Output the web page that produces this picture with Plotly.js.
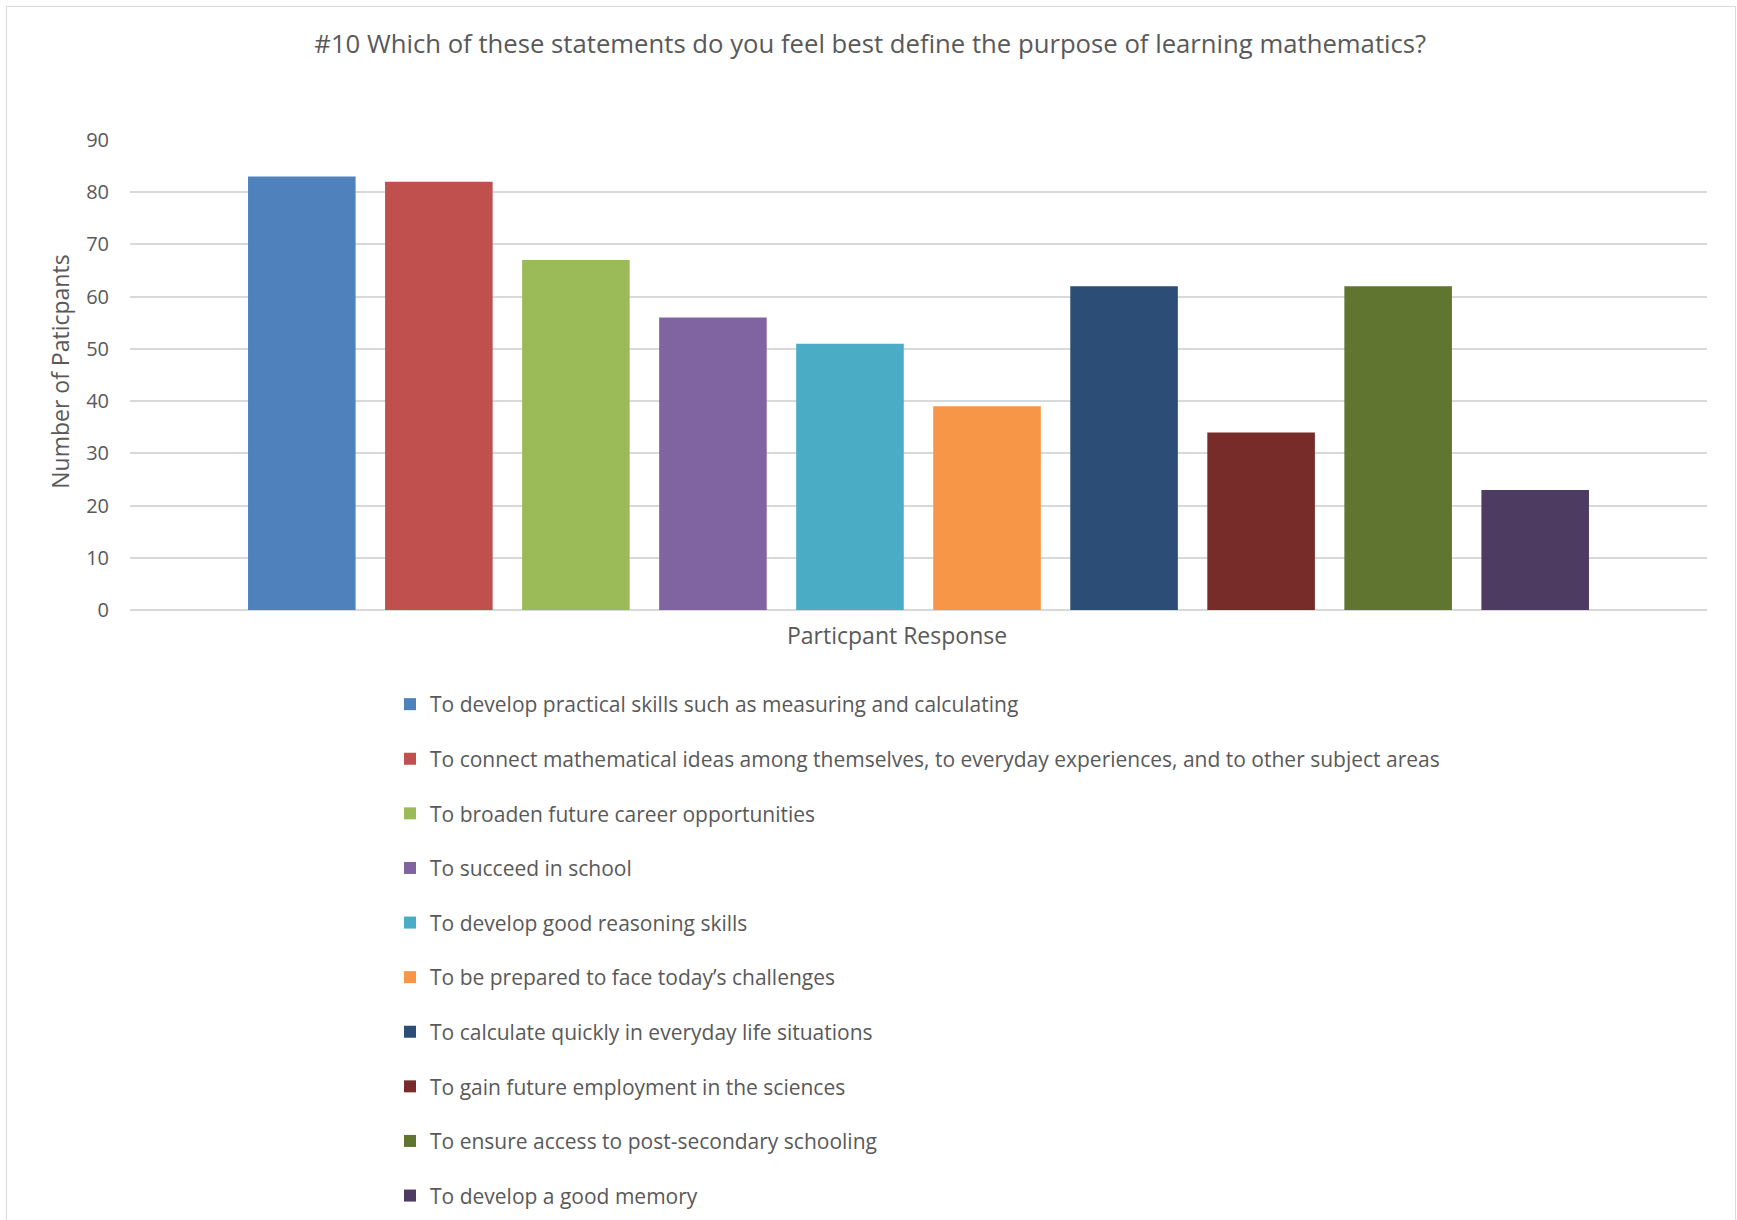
<!DOCTYPE html>
<html>
<head>
<meta charset="utf-8">
<script src="https://cdn.plot.ly/plotly-3.0.1.min.js"></script>
<style>
  html, body { margin: 0; padding: 0; background: #ffffff; }
  #wrap { position: relative; width: 1737px; height: 1220px; overflow: hidden; }
  #chart { position: absolute; left: 0; top: 0; width: 1737px; height: 1220px; }
  #frame { position: absolute; left: 6px; top: 6px; width: 1728px; height: 1300px;
           border: 1px solid #d9d9d9; pointer-events: none; }
</style>
</head>
<body>
<div id="wrap">
  <div id="chart"></div>
  <div id="frame"></div>
</div>
<script>
const chartTitle = '#10 Which of these statements do you feel best define the purpose of learning mathematics?';
const xTitle = 'Particpant Response';
const yTitle = 'Number of Paticpants';
const xCategory = ['Particpant Response'];
const statements = [
  'To develop practical skills such as measuring and calculating',
  'To connect mathematical ideas among themselves, to everyday experiences, and to other subject areas',
  'To broaden future career opportunities',
  'To succeed in school',
  'To develop good reasoning skills',
  'To be prepared to face today\u2019s challenges',
  'To calculate quickly in everyday life situations',
  'To gain future employment in the sciences',
  'To ensure access to post-secondary schooling',
  'To develop a good memory'
];
const counts = [83, 82, 67, 56, 51, 39, 62, 34, 62, 23];
const colors = ['#4F81BD', '#C0504D', '#9BBB59', '#8064A2', '#4BACC6',
                '#F79646', '#2C4D75', '#772C2A', '#5F7530', '#4D3B62'];
const yTicks = [0, 10, 20, 30, 40, 50, 60, 70, 80, 90];

const FONT = '"Open Sans", Lato, sans-serif';
const TXT = '#595959';

const traces = statements.map((name, i) => ({
  type: 'bar',
  name: name,
  x: xCategory,
  y: [counts[i]],
  marker: { color: colors[i], line: { width: 0 } },
  legendgroup: 'g' + i,
  hoverinfo: 'name+y'
}));

const layout = {
  width: 1737,
  height: 1220,
  paper_bgcolor: '#ffffff',
  plot_bgcolor: '#ffffff',
  font: { family: FONT, color: TXT, size: 20 },
  margin: { l: 130, r: 30, t: 140, b: 609.5, autoexpand: false },
  title: {
    text: chartTitle,
    font: { family: FONT, size: 25.7, color: TXT },
    x: 0.501, xanchor: 'center', xref: 'container',
    y: 1 - 44 / 1220, yanchor: 'middle', yref: 'container'
  },
  barmode: 'group',
  bargap: 0.131,
  bargroupgap: 0.215,
  xaxis: {
    type: 'category',
    showticklabels: false,
    showgrid: false,
    zeroline: false,
    showline: false,
    ticks: '',
    fixedrange: true
  },
  yaxis: {
    range: [0, 90],
    tickvals: yTicks,
    ticktext: yTicks.map(String),
    showgrid: true,
    gridcolor: '#d9d9d9',
    gridwidth: 1.5,
    zeroline: true,
    zerolinecolor: '#d9d9d9',
    zerolinewidth: 1.5,
    showline: false,
    ticks: '',
    ticklabelstandoff: 20,
    tickfont: { family: FONT, size: 20, color: TXT },
    automargin: false,
    fixedrange: true
  },
  annotations: [
    {
      text: yTitle,
      xref: 'paper', yref: 'paper',
      x: (60 - 130) / 1577, y: (610.5 - 372) / 470.5,
      xanchor: 'center', yanchor: 'middle',
      textangle: -90,
      showarrow: false,
      font: { family: FONT, size: 23, color: TXT }
    },
    {
      text: xTitle,
      xref: 'paper', yref: 'paper',
      x: (897 - 130) / 1577, y: (610.5 - 636) / 470.5,
      xanchor: 'center', yanchor: 'middle',
      showarrow: false,
      font: { family: FONT, size: 23, color: TXT }
    }
  ],
  showlegend: true,
  legend: {
    xref: 'container', yref: 'container',
    x: 390 / 1737, xanchor: 'left',
    y: 1 - 684 / 1220, yanchor: 'top',
    orientation: 'v',
    traceorder: 'grouped',
    tracegroupgap: 24.3,
    font: { family: FONT, size: 21, color: TXT },
    bgcolor: 'rgba(0,0,0,0)'
  }
};

Plotly.newPlot('chart', traces, layout, { displayModeBar: false });
</script>
</body>
</html>
